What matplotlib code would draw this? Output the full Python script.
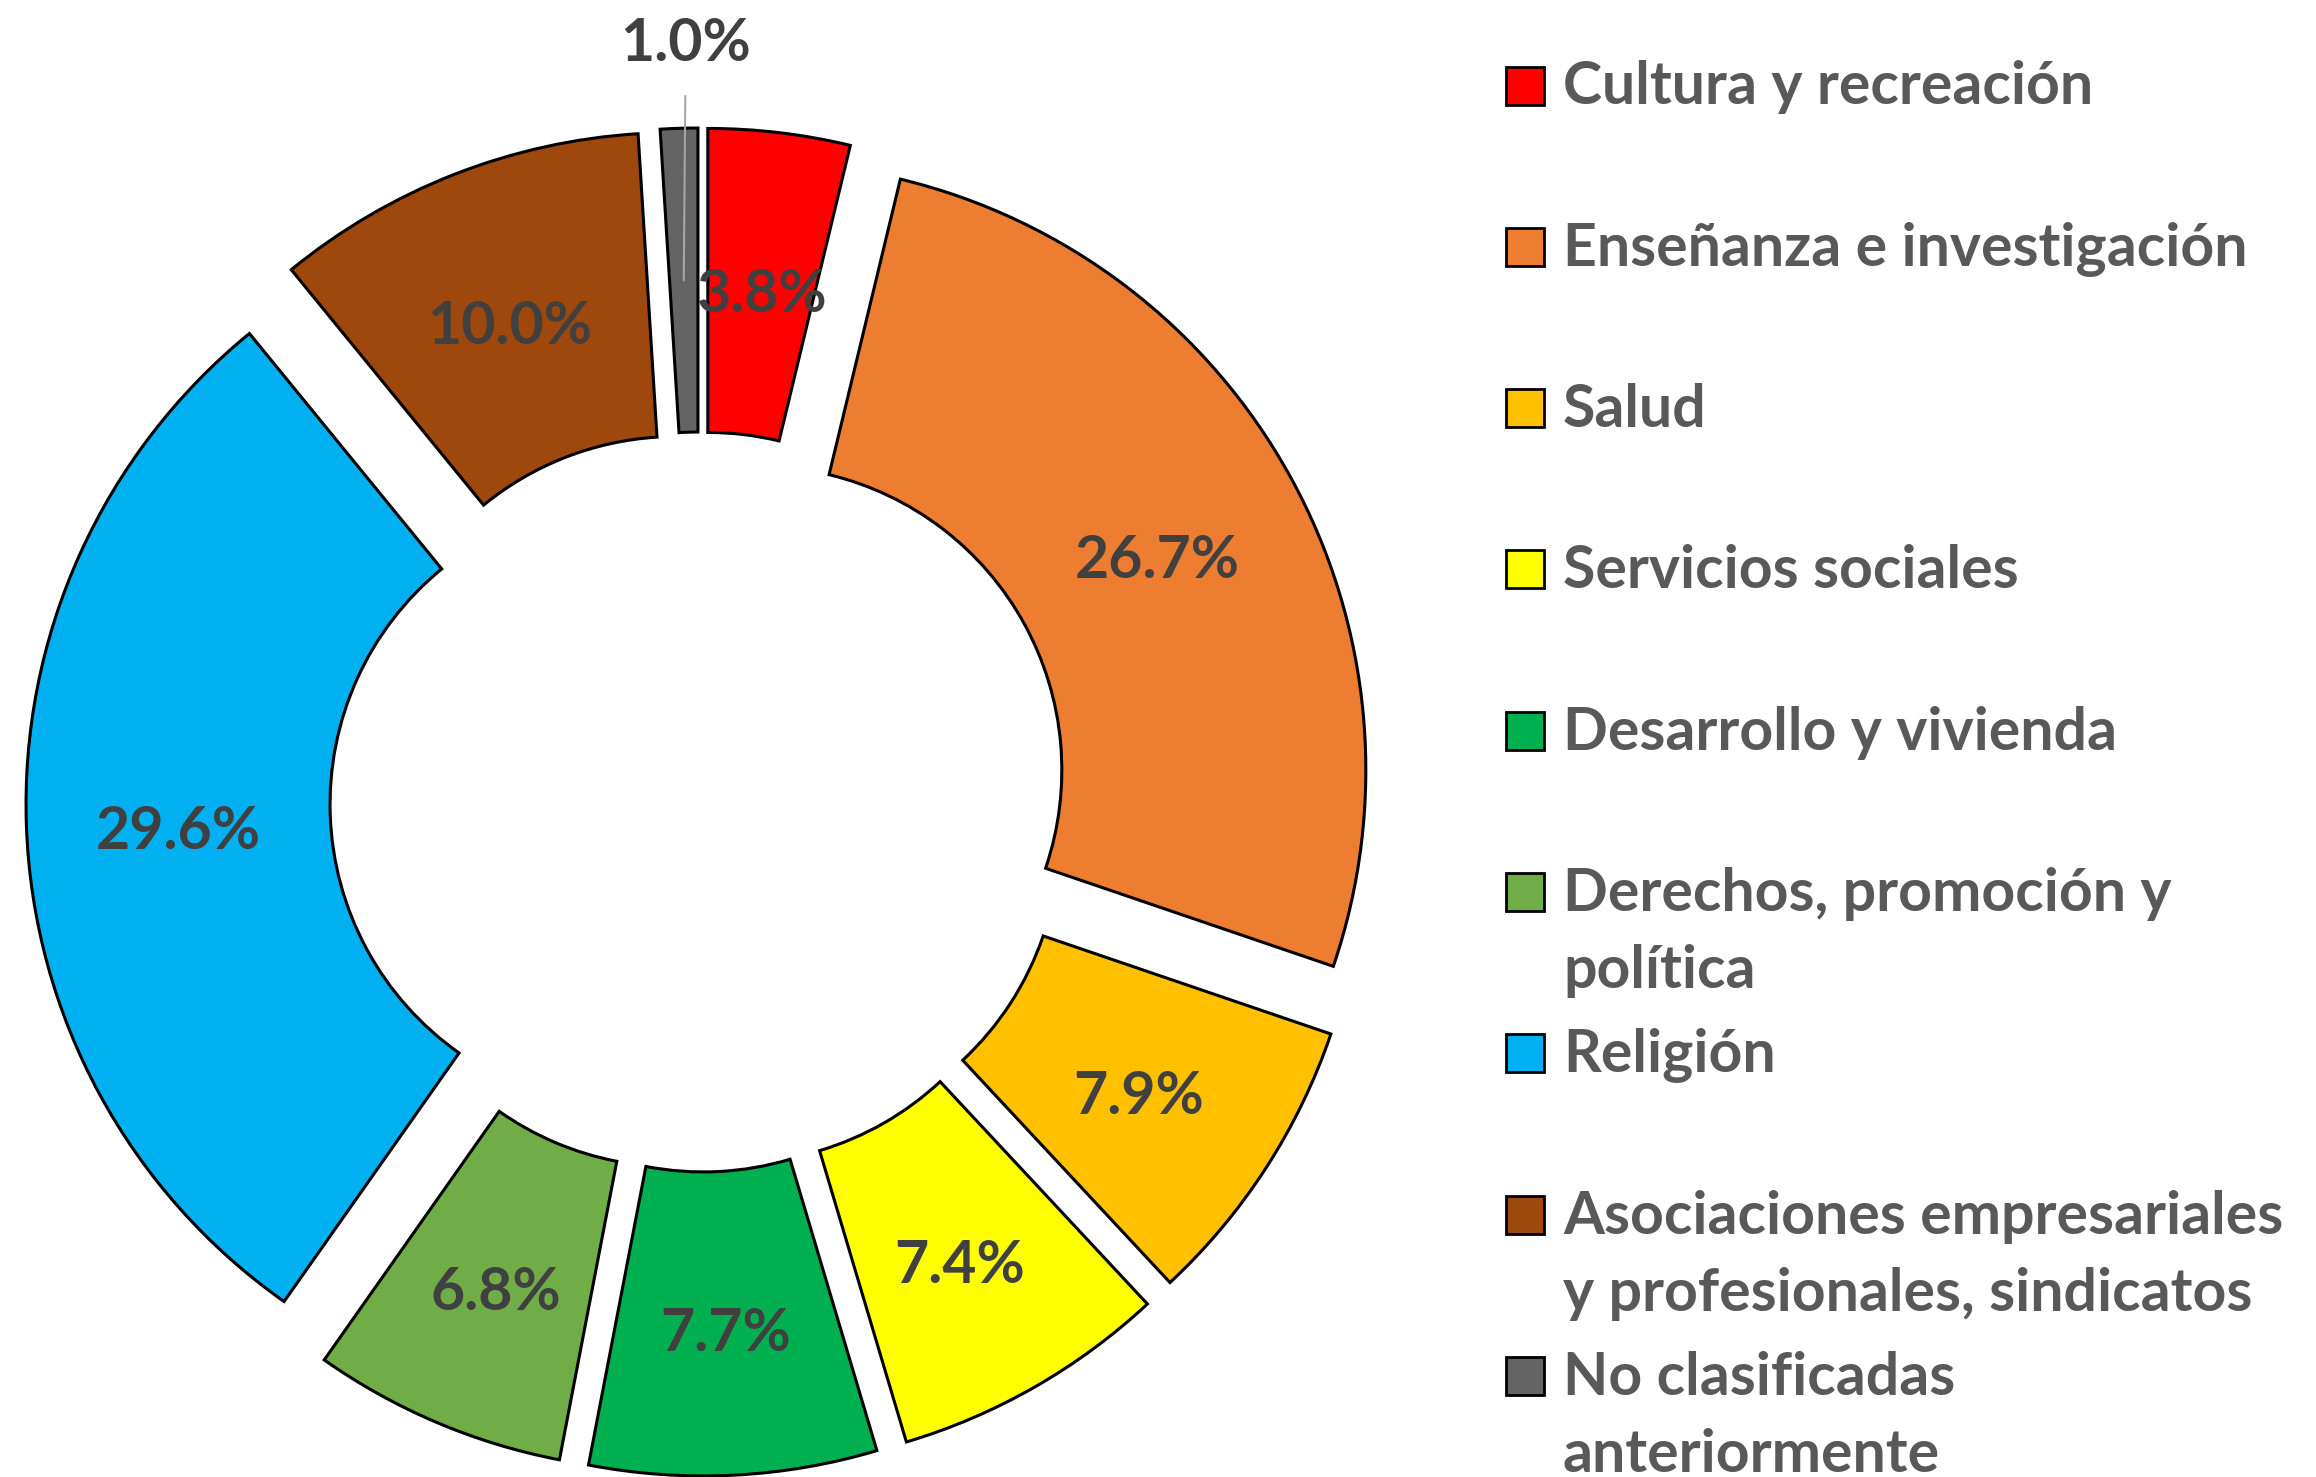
import matplotlib
matplotlib.use("Agg")
import matplotlib.pyplot as plt
from matplotlib.patches import Rectangle

categories = [
    "Cultura y recreación",
    "Enseñanza e investigación",
    "Salud",
    "Servicios sociales",
    "Desarrollo y vivienda",
    "Derechos, promoción y\npolítica",
    "Religión",
    "Asociaciones empresariales\ny profesionales, sindicatos",
    "No clasificadas\nanteriormente",
]
shares = [3.8, 26.7, 7.9, 7.4, 7.7, 6.8, 29.6, 10.0, 1.0]
colors = ["#FF0000", "#ED7D31", "#FFC000", "#FFFF00", "#00B050",
          "#70AD47", "#00B0F0", "#9E480E", "#646464"]

W, H = 2316, 1477
plt.rcParams["font.family"] = ["Lato", "DejaVu Sans"]
FS = 42.5

fig = plt.figure(figsize=(W / 100, H / 100), dpi=100)
ax = fig.add_axes([0, 0, 1, 1])

radius = 608
center = (700, H - 802)
wedges, _, autotexts = ax.pie(
    shares,
    colors=colors,
    startangle=90,
    counterclock=False,
    radius=radius,
    center=center,
    explode=[66] * len(shares),  # offset in data units (pixels here)
    autopct="%1.1f%%",
    pctdistance=0.75,
    wedgeprops=dict(width=radius * 0.5, edgecolor="black", linewidth=2.2),
    textprops=dict(fontsize=FS, fontweight="bold", color="#404040"),
)
ax.set_xlim(0, W)
ax.set_ylim(0, H)
ax.set_aspect("equal")
ax.axis("off")

for txt, val in zip(autotexts, shares):
    txt.set_text("{:.1f}%".format(val))
    x, y = txt.get_position()
    txt.set_position((x, y - 11))

# smallest slice: label moved above the ring with a leader line
small = autotexts[-1]
sx, sy = small.get_position()
sy += 11
small.set_visible(False)
ax.annotate(
    "{:.1f}%".format(shares[-1]),
    xy=(sx, sy),
    xytext=(sx + 2, H - 44),
    ha="center",
    va="center",
    fontsize=FS,
    fontweight="bold",
    color="#404040",
    arrowprops=dict(arrowstyle="-", color="#A6A6A6", linewidth=1.5, shrinkA=16, shrinkB=0),
)

# legend drawn by hand to keep the wide Excel-like spacing
step = 161.3
for i, (label, color) in enumerate(zip(categories, colors)):
    yc = H - 85.5 - i * step
    ax.add_patch(Rectangle((1506, yc - 19), 38, 38, facecolor=color,
                           edgecolor="black", linewidth=2.0))
    for k, line in enumerate(label.split("\n")):
        ax.text(1563, yc - 19 - k * 77, line, ha="left", va="baseline",
                fontsize=FS, fontweight="bold", color="#595959")

fig.savefig("out.png", dpi=100)
